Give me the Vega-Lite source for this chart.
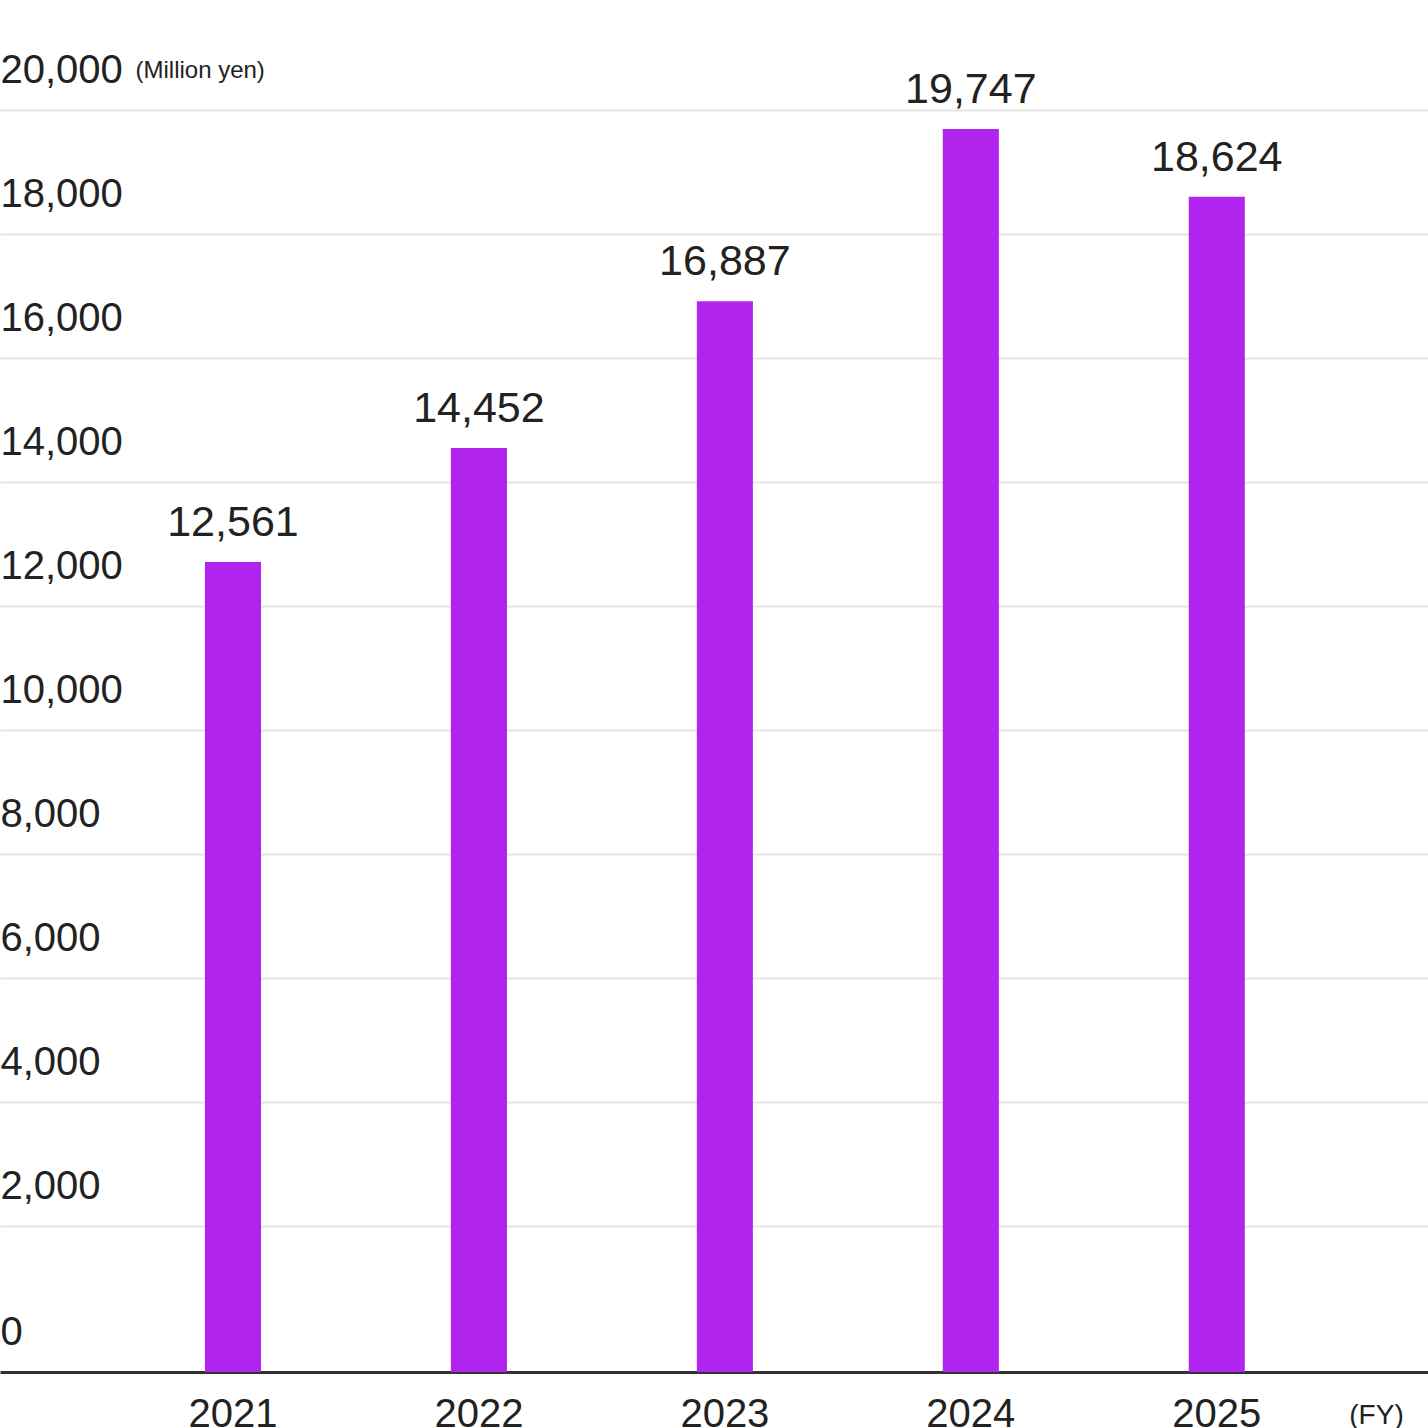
{
  "$schema": "https://vega.github.io/schema/vega-lite/v6.json",
  "width": 1428,
  "height": 1372,
  "autosize": {"type": "none"},
  "padding": {"left": 0, "top": 0, "right": 0, "bottom": 56},
  "background": "white",
  "config": {"view": {"stroke": null}, "font": "Liberation Sans"},
  "data": {
    "values": [
      {"fy": "2021", "sales": 12561},
      {"fy": "2022", "sales": 14452},
      {"fy": "2023", "sales": 16887},
      {"fy": "2024", "sales": 19747},
      {"fy": "2025", "sales": 18624}
    ]
  },
  "layer": [
    {
      "mark": {"type": "rule", "opacity": 0},
      "encoding": {
        "y": {
          "field": "sales",
          "type": "quantitative",
          "scale": {"domain": [-355, 21774], "nice": false, "zero": false},
          "axis": {
            "orient": "left",
            "values": [0, 2000, 4000, 6000, 8000, 10000, 12000, 14000, 16000, 18000, 20000],
            "format": ",.0f",
            "domain": false,
            "ticks": false,
            "grid": true,
            "gridColor": "#e5e5e5",
            "gridWidth": 2,
            "gridOpacity": {"condition": {"test": "datum.value === 0", "value": 0}, "value": 1},
            "labelAlign": "left",
            "labelBaseline": "alphabetic",
            "labelPadding": 0,
            "labelOffset": {"condition": {"test": "datum.value === 0", "value": -5}, "value": -27},
            "labelFontSize": 40,
            "labelColor": "#222222",
            "labelOverlap": false,
            "labelBound": false,
            "title": "(Million yen)",
            "titleAngle": 0,
            "titleAlign": "left",
            "titleBaseline": "alphabetic",
            "titleX": 135,
            "titleY": 77,
            "titleFontSize": 24,
            "titleFontWeight": "normal",
            "titleColor": "#222222"
          }
        }
      }
    },
    {
      "mark": {"type": "bar", "color": "#b024ee"},
      "encoding": {
        "x": {
          "field": "fy",
          "type": "ordinal",
          "scale": {"paddingInner": 0.772, "paddingOuter": 0.789, "align": 0.528},
          "axis": {
            "labelAngle": 0,
            "labelFontSize": 40,
            "labelColor": "#222222",
            "labelBaseline": "alphabetic",
            "labelPadding": 54,
            "ticks": false,
            "grid": false,
            "domainColor": "#333333",
            "domainWidth": 3,
            "title": "(FY)",
            "titleX": 1376,
            "titleY": 51,
            "titleAlign": "center",
            "titleBaseline": "alphabetic",
            "titleFontSize": 28,
            "titleFontWeight": "normal",
            "titleColor": "#222222"
          }
        },
        "y": {
          "field": "sales",
          "type": "quantitative",
          "scale": {"domain": [-880, 21888], "nice": false, "zero": false},
          "axis": null
        },
        "y2": {"datum": -880}
      }
    },
    {
      "mark": {"type": "text", "baseline": "alphabetic", "dy": -26, "fontSize": 43, "color": "#222222"},
      "encoding": {
        "x": {"field": "fy", "type": "ordinal"},
        "y": {
          "field": "sales",
          "type": "quantitative",
          "scale": {"domain": [-880, 21888], "nice": false, "zero": false},
          "axis": null
        },
        "text": {"field": "sales", "type": "quantitative", "format": ","}
      }
    }
  ],
  "resolve": {"scale": {"y": "independent"}}
}
